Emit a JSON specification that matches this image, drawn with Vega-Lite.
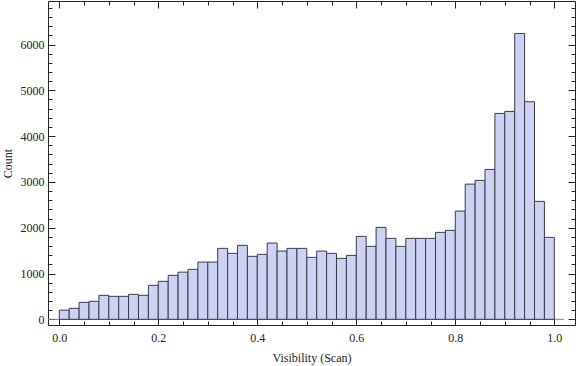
{
  "$schema": "https://vega.github.io/schema/vega-lite/v6.json",
  "width": 527,
  "height": 324,
  "autosize": {"type": "none"},
  "padding": {"left": 48, "top": 1, "right": 1, "bottom": 41},
  "background": "white",
  "config": {
    "view": {"stroke": "#222222", "strokeWidth": 1},
    "axis": {
      "domain": false,
      "grid": false,
      "labelFont": "Liberation Serif",
      "titleFont": "Liberation Serif",
      "labelFontSize": 12,
      "titleFontSize": 12,
      "labelColor": "#222222",
      "titleColor": "#222222",
      "titleFontWeight": "normal",
      "tickColor": "#222222",
      "tickWidth": 1
    }
  },
  "resolve": {"axis": {"x": "independent", "y": "independent"}},
  "layer": [
    {
      "data": {"values": [{"x0": -0.0228, "x1": 1.0196, "y0": 0}]},
      "mark": {"type": "rule", "color": "#808080", "strokeWidth": 1},
      "encoding": {
        "x": {"field": "x0", "type": "quantitative",
          "scale": {"domain": [-0.0228, 1.0418], "nice": false, "zero": false},
          "axis": {"orient": "top", "title": null, "labels": false,
            "values": [0,0.05,0.1,0.15,0.2,0.25,0.3,0.35,0.4,0.45,0.5,0.55,0.6,0.65,0.7,0.75,0.8,0.85,0.9,0.95,1.0],
            "tickSize": {"expr": "abs(datum.value*5 - round(datum.value*5)) < 0.001 ? -7 : -4"}}},
        "x2": {"field": "x1"},
        "y": {"field": "y0", "type": "quantitative",
          "scale": {"domain": [-124, 6950], "nice": false, "zero": false},
          "axis": {"orient": "right", "title": null, "labels": false,
            "values": [0,200,400,600,800,1000,1200,1400,1600,1800,2000,2200,2400,2600,2800,3000,3200,3400,3600,3800,4000,4200,4400,4600,4800,5000,5200,5400,5600,5800,6000,6200,6400,6600,6800],
            "tickSize": {"expr": "datum.value % 1000 == 0 ? -7 : -4"}}}
      }
    },
    {
      "data": {"values": [
        {"start": 0.00, "end": 0.02, "count": 200},
        {"start": 0.02, "end": 0.04, "count": 240},
        {"start": 0.04, "end": 0.06, "count": 371},
        {"start": 0.06, "end": 0.08, "count": 393},
        {"start": 0.08, "end": 0.10, "count": 524},
        {"start": 0.10, "end": 0.12, "count": 502},
        {"start": 0.12, "end": 0.14, "count": 502},
        {"start": 0.14, "end": 0.16, "count": 545},
        {"start": 0.16, "end": 0.18, "count": 524},
        {"start": 0.18, "end": 0.20, "count": 742},
        {"start": 0.20, "end": 0.22, "count": 829},
        {"start": 0.22, "end": 0.24, "count": 960},
        {"start": 0.24, "end": 0.26, "count": 1030},
        {"start": 0.26, "end": 0.28, "count": 1091},
        {"start": 0.28, "end": 0.30, "count": 1250},
        {"start": 0.30, "end": 0.32, "count": 1250},
        {"start": 0.32, "end": 0.34, "count": 1549},
        {"start": 0.34, "end": 0.36, "count": 1440},
        {"start": 0.36, "end": 0.38, "count": 1615},
        {"start": 0.38, "end": 0.40, "count": 1375},
        {"start": 0.40, "end": 0.42, "count": 1418},
        {"start": 0.42, "end": 0.44, "count": 1665},
        {"start": 0.44, "end": 0.46, "count": 1490},
        {"start": 0.46, "end": 0.48, "count": 1549},
        {"start": 0.48, "end": 0.50, "count": 1549},
        {"start": 0.50, "end": 0.52, "count": 1353},
        {"start": 0.52, "end": 0.54, "count": 1490},
        {"start": 0.54, "end": 0.56, "count": 1440},
        {"start": 0.56, "end": 0.58, "count": 1331},
        {"start": 0.58, "end": 0.60, "count": 1396},
        {"start": 0.60, "end": 0.62, "count": 1811},
        {"start": 0.62, "end": 0.64, "count": 1593},
        {"start": 0.64, "end": 0.66, "count": 2007},
        {"start": 0.66, "end": 0.68, "count": 1767},
        {"start": 0.68, "end": 0.70, "count": 1593},
        {"start": 0.70, "end": 0.72, "count": 1767},
        {"start": 0.72, "end": 0.74, "count": 1767},
        {"start": 0.74, "end": 0.76, "count": 1767},
        {"start": 0.76, "end": 0.78, "count": 1898},
        {"start": 0.78, "end": 0.80, "count": 1942},
        {"start": 0.80, "end": 0.82, "count": 2363},
        {"start": 0.82, "end": 0.84, "count": 2952},
        {"start": 0.84, "end": 0.86, "count": 3033},
        {"start": 0.86, "end": 0.88, "count": 3273},
        {"start": 0.88, "end": 0.90, "count": 4495},
        {"start": 0.90, "end": 0.92, "count": 4539},
        {"start": 0.92, "end": 0.94, "count": 6241},
        {"start": 0.94, "end": 0.96, "count": 4750},
        {"start": 0.96, "end": 0.98, "count": 2575},
        {"start": 0.98, "end": 1.00, "count": 1789}
      ]},
      "mark": {"type": "bar", "fill": "#ccd2f4", "stroke": "#3a3a48", "strokeWidth": 1, "opacity": 1},
      "encoding": {
        "x": {"field": "start", "type": "quantitative",
          "axis": {"orient": "bottom", "title": "Visibility (Scan)", "titlePadding": 9,
            "values": [0,0.05,0.1,0.15,0.2,0.25,0.3,0.35,0.4,0.45,0.5,0.55,0.6,0.65,0.7,0.75,0.8,0.85,0.9,0.95,1.0],
            "labelExpr": "abs(datum.value*5 - round(datum.value*5)) < 0.001 ? format(datum.value, '.1f') : ''",
            "tickSize": {"expr": "abs(datum.value*5 - round(datum.value*5)) < 0.001 ? -7 : -4"},
            "labelPadding": 14, "labelFlush": false}},
        "x2": {"field": "end"},
        "y": {"field": "count", "type": "quantitative",
          "axis": {"orient": "left", "title": "Count", "titlePadding": 6,
            "values": [0,200,400,600,800,1000,1200,1400,1600,1800,2000,2200,2400,2600,2800,3000,3200,3400,3600,3800,4000,4200,4400,4600,4800,5000,5200,5400,5600,5800,6000,6200,6400,6600,6800],
            "labelExpr": "datum.value % 1000 == 0 ? format(datum.value, 'd') : ''",
            "tickSize": {"expr": "datum.value % 1000 == 0 ? -7 : -4"},
            "labelPadding": 11, "labelFlush": false}},
        "y2": {"datum": 0}
      }
    }
  ]
}
